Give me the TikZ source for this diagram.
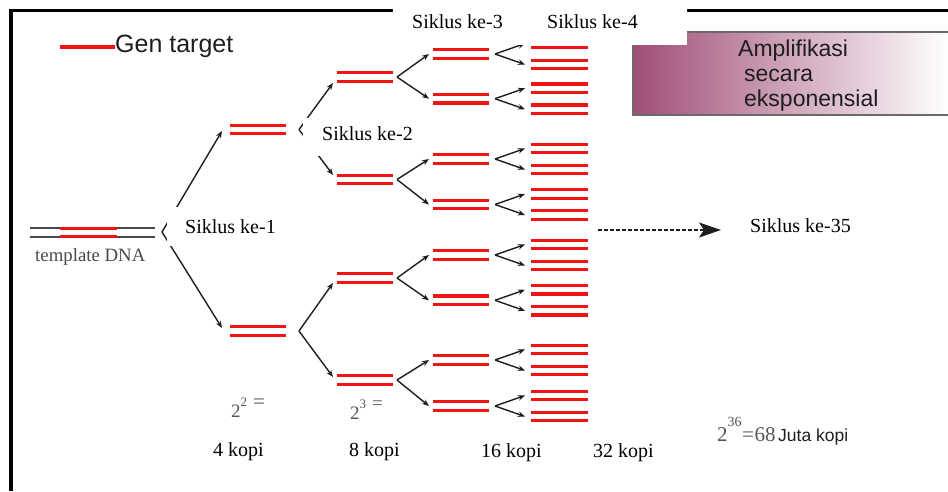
\documentclass[tikz,border=0pt]{standalone}
\usepackage{fontspec}
\setmainfont{Liberation Serif}
\setsansfont{Liberation Sans}
\usetikzlibrary{arrows.meta}

\definecolor{genred}{HTML}{F01414}
\definecolor{ink}{HTML}{1E1E1E}
\definecolor{strandgray}{HTML}{4A4A4A}
\definecolor{mauve}{RGB}{160,78,120}
\definecolor{labelgray}{HTML}{555555}
\definecolor{boxline}{HTML}{6A6A6A}

\tikzset{
  gene/.style={genred, line width=3.2pt},
  template/.style={strandgray, line width=1.8pt},
  arm/.style={ink, line width=1.4pt, -{Stealth[length=7pt,width=5.5pt]}},
  farrow/.style={ink, line width=1.2pt, dash pattern=on 3.5pt off 2.5pt,
    -{Stealth[length=22pt,width=15pt,inset=5pt]}},
  txt/.style={inner sep=0pt, anchor=base west},
  cyc/.style={txt, font=\fontsize{20}{24}\selectfont},
  sans/.style={txt, font=\sffamily\fontsize{23}{26}\selectfont, text=ink},
  cover/.style={fill=white, draw=none}
}

% two strands of a copy, centred on the given height
\newcommand{\dsdna}[3]{%
  \draw[gene] (#1,{#3-4.25}) -- (#2,{#3-4.25});
  \draw[gene] (#1,{#3+4.25}) -- (#2,{#3+4.25});}

% a "<" fork: vertex name, vertex x, vertex y, tip x, upper tip y, lower tip y
\newcommand{\pcrfork}[6]{%
  \coordinate (#1) at (#2,#3);
  \coordinate (#1-u) at (#4,#5);
  \coordinate (#1-d) at (#4,#6);
  \draw[arm] (#1) -- (#1-u);
  \draw[arm] (#1) -- (#1-d);}

\begin{document}
\begin{tikzpicture}[x=1pt,y=-1pt]
\useasboundingbox (0,0) rectangle (948,491);

% slide frame
\draw[line width=3.5pt, black] (11,491) -- (11,10.5) -- (948,10.5);

% banner with gradient
\shade[left color=mauve, right color=white] (633,32) rectangle (948,115);
\draw[boxline, line width=1.3pt] (948,32) -- (633,32) -- (633,115) -- (948,115);
\node[sans] (amp1) at (738,56) {Amplifikasi};
\node[sans] (amp2) at (744,81) {secara};
\node[sans] (amp3) at (744,106) {eksponensial};

% legend
\coordinate (legA) at (60,47);
\coordinate (legB) at (115,47);
\draw[gene] (legA) -- (legB);
\node[txt, font=\sffamily\fontsize{25}{28}\selectfont, text=ink] (legend) at (115,52) {Gen target};

% template DNA
\draw[template] (30,228.3) -- (155,228.3);
\draw[template] (30,236.7) -- (155,236.7);
\draw[gene] (60,228.3) -- (117,228.3);
\draw[gene] (60,236.7) -- (117,236.7);
\node[txt, font=\fontsize{18.8}{22}\selectfont, text=strandgray] (tmpl) at (35,261) {template DNA};

% cycle 1
\pcrfork{f1}{162}{232}{222}{131}{328}
\dsdna{230}{286}{129.5}
\dsdna{230}{286}{331}

% cycle 2
\pcrfork{f2a}{299}{129.5}{333}{83}{175}
\pcrfork{f2b}{299}{331}{333}{283}{377}
\foreach \c/\u/\d [count=\i] in {77/54/98.7, 179.5/159/204.5, 278/255/300.3, 380/360/406}{
  \dsdna{337}{393}{\c}
  \pcrfork{f3-\i}{397}{\c}{429}{\u}{\d}
}

% cycles 3 and 4
\foreach \c [count=\i] in {54, 98.7, 159, 204.5, 255, 300.3, 360, 406}{
  \dsdna{433}{489}{\c}
  \pcrfork{f4-\i}{495}{\c}{525}{\c-10.5}{\c+10.5}
  \dsdna{531}{588}{\c-10.5}
  \dsdna{531}{588}{\c+10.5}
}

% onward to cycle 35
\coordinate (dashA) at (598,230);
\coordinate (dashB) at (721,230);
\draw[farrow] (dashA) -- (dashB);
\node[cyc] (c35) at (750,232) {Siklus ke-35};

% cycle labels on white patches
\fill[cover] (166.5,207) rectangle (290,246);
\node[cyc] (c1) at (185,233) {Siklus ke-1};
\fill[cover] (303,117.5) rectangle (428,156);
\node[cyc] (c2) at (322,140) {Siklus ke-2};
\fill[cover] (393,-1) rectangle (687,45);
\node[cyc] (c3) at (412,28) {Siklus ke-3};
\node[cyc] (c4) at (547,28) {Siklus ke-4};

% copy counts
\node[txt, text=labelgray, font=\fontsize{19}{20}\selectfont] (p2) at (231,417)
  {2\raisebox{10.5pt}{\fontsize{13}{13}\selectfont 2}\hspace{6pt}\raisebox{9pt}{\fontsize{21}{21}\selectfont =}};
\node[txt, text=labelgray, font=\fontsize{19}{20}\selectfont] (p3) at (350,419)
  {2\raisebox{11pt}{\fontsize{13}{13}\selectfont 3}\hspace{6pt}\raisebox{10pt}{=}};
\node[cyc] (k4) at (213,456) {4 kopi};
\node[cyc] (k8) at (349,456) {8 kopi};
\node[cyc] (k16) at (481,457) {16 kopi};
\node[cyc] (k32) at (593,457) {32 kopi};
\node[txt, text=labelgray, font=\fontsize{21}{22}\selectfont] (p36) at (717,441.5)
  {2\raisebox{15pt}{\fontsize{14}{14}\selectfont 36}\hspace{0.5pt}=\hspace{0.5pt}68};
\node[txt, font=\sffamily\fontsize{17.5}{20}\selectfont, text=ink] (juta) at (778,441.5) {Juta kopi};
\end{tikzpicture}
\end{document}
